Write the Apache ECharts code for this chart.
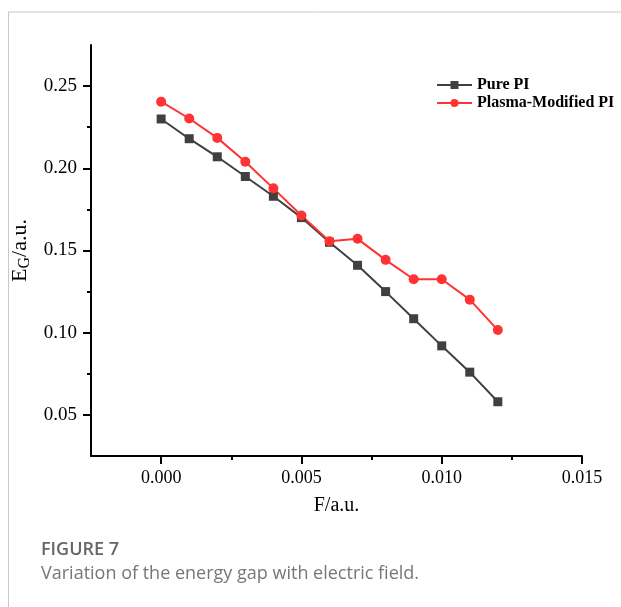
<!DOCTYPE html>
<html>
<head>
<meta charset="utf-8">
<script src="https://cdn.jsdelivr.net/npm/echarts@6/dist/echarts.min.js"></script>
<style>
  html, body {margin: 0; padding: 0; background: #fff;}
  #chart {width: 621px; height: 607px;}
</style>
</head>
<body>
<div id="chart"></div>
<script>
    // field values F (a.u.)
    var fieldVals = [0, 0.001, 0.002, 0.003, 0.004, 0.005, 0.006, 0.007, 0.008, 0.009, 0.010, 0.011, 0.012];
    // energy gap E_G (a.u.)
    var purePI = [0.230, 0.218, 0.207, 0.195, 0.183, 0.170, 0.155, 0.141, 0.125, 0.1085, 0.092, 0.076, 0.058];
    var plasmaPI = [0.2405, 0.2303, 0.2185, 0.204, 0.1878, 0.1713, 0.1557, 0.1571, 0.1443, 0.1325, 0.1325, 0.1201, 0.1016];
    var xMajor = [0, 0.005, 0.010, 0.015];
    var xMinor = [0.0025, 0.0075, 0.0125];
    var yMajor = [0.05, 0.10, 0.15, 0.20, 0.25];
    var yMinor = [0.075, 0.125, 0.175, 0.225];

    var serif = '"Liberation Serif", "Times New Roman", serif';
    var pair = function (ys) {
        return fieldVals.map(function (x, i) { return [x, ys[i]]; });
    };
    var lineBlack = {color: '#000', width: 2};

    var chart = echarts.init(document.getElementById('chart'));
    chart.setOption({
        animation: false,
        grid: {left: 91, right: 39, top: 45, bottom: 151},
        legend: {
            orient: 'vertical', left: 431, top: 72, itemWidth: 35, itemHeight: 10, itemGap: 2,
            textStyle: {fontFamily: serif, fontWeight: 'bold', fontSize: 16, color: '#000'},
            data: ['Pure PI', 'Plasma-Modified PI']
        },
        xAxis: [{
            type: 'value', min: -0.0025, max: 0.015,
            name: 'F/a.u.', nameLocation: 'middle', nameGap: 40,
            nameTextStyle: {fontFamily: serif, fontSize: 20, color: '#000'},
            axisLine: {show: true, onZero: false, lineStyle: lineBlack},
            axisTick: {show: true, length: 8, lineStyle: lineBlack, customValues: xMajor},
            axisLabel: {
                fontFamily: serif, fontSize: 18, color: '#000', margin: 13, customValues: xMajor,
                formatter: function (v) { return v.toFixed(3); }
            },
            splitLine: {show: false}
        }, {
            type: 'value', min: -0.0025, max: 0.015, position: 'bottom',
            axisLine: {show: false, onZero: false},
            axisTick: {show: true, length: 4, lineStyle: lineBlack, customValues: xMinor},
            axisLabel: {show: false},
            splitLine: {show: false}
        }],
        yAxis: [{
            type: 'value', min: 0.025, max: 0.275, position: 'left',
            name: '{a|E}{b|G}{a|/a.u.}', nameLocation: 'middle', nameGap: 57, nameRotate: 90,
            nameTextStyle: {
                rich: {
                    a: {fontFamily: serif, fontSize: 22, color: '#000'},
                    b: {fontFamily: serif, fontSize: 16, color: '#000', padding: [10, 0, 0, 0]}
                }
            },
            axisLine: {show: true, onZero: false, lineStyle: lineBlack},
            axisTick: {show: true, length: 8, lineStyle: lineBlack, customValues: yMajor},
            axisLabel: {
                fontFamily: serif, fontSize: 19, color: '#000', margin: 14, customValues: yMajor,
                formatter: function (v) { return v.toFixed(2); }
            },
            splitLine: {show: false}
        }, {
            type: 'value', min: 0.025, max: 0.275, position: 'left', offset: 0,
            axisLine: {show: false, onZero: false},
            axisTick: {show: true, length: 4, lineStyle: lineBlack, customValues: yMinor},
            axisLabel: {show: false},
            splitLine: {show: false}
        }],
        series: [{
            name: 'Pure PI', type: 'line', symbol: 'rect', symbolSize: 9,
            itemStyle: {color: '#404040'}, lineStyle: {color: '#404040', width: 2},
            data: pair(purePI)
        }, {
            name: 'Plasma-Modified PI', type: 'line', symbol: 'circle', symbolSize: 10,
            itemStyle: {color: '#ff3333'}, lineStyle: {color: '#ff3333', width: 2},
            data: pair(plasmaPI)
        }],
        graphic: [
            {type: 'line', shape: {x1: 8, y1: 12, x2: 621, y2: 12}, style: {stroke: '#c8c8c8', lineWidth: 1}},
            {type: 'line', shape: {x1: 8.5, y1: 12, x2: 8.5, y2: 607}, style: {stroke: '#c8c8c8', lineWidth: 1}},
            {type: 'text', left: 41, top: 541, style: {
                text: 'FIGURE 7', fill: '#666', font: '600 18px "Open Sans", "Noto Sans", sans-serif'}},
            {type: 'text', left: 41, top: 565, style: {
                text: 'Variation of the energy gap with electric field.', fill: '#777',
                font: '18px "Open Sans", "Noto Sans", sans-serif'}}
        ]
    });
</script>
</body>
</html>
